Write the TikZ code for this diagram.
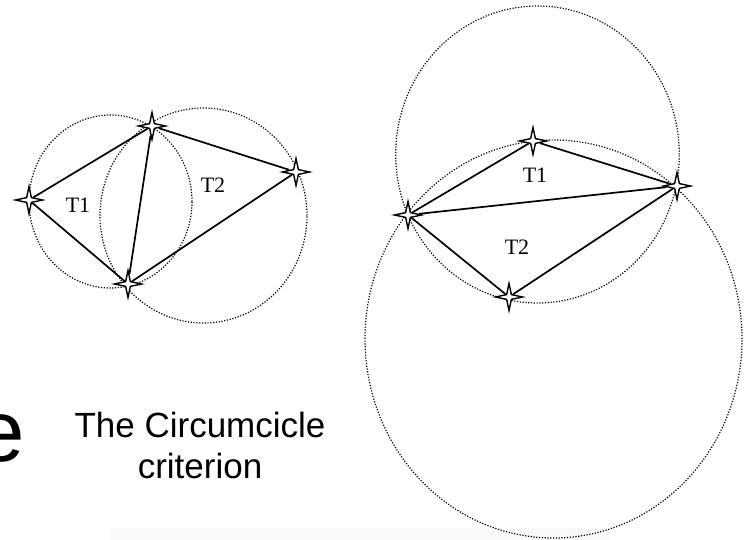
\documentclass[tikz,border=0pt]{standalone}
\usepackage{fontspec}
\setmainfont{Liberation Serif}
\setsansfont{Liberation Sans}
\usepackage{tikz}
\usetikzlibrary{shapes.geometric}
\definecolor{figline}{RGB}{0,0,0}
\definecolor{figstrip}{RGB}{249,249,249}
\tikzset{
  ccl/.style ={draw=figline, line width=1.2pt, dash pattern=on 1.2pt off 1.6pt},
  edg/.style ={draw=figline, line width=1.7pt},
  vtx/.style ={shape=star, star points=4, star point ratio=4, minimum size=27pt,
               inner sep=0pt, draw=figline, fill=white, line width=1.4pt},
  lab/.style ={font=\fontsize{22}{26}\selectfont, inner sep=0pt},
  capt/.style={font=\sffamily\fontsize{35}{41}\selectfont, align=center, inner sep=0pt},
  bige/.style={font=\sffamily\fontsize{87}{100}\selectfont, inner sep=0pt},
}

\begin{document}
\begin{tikzpicture}[x=1pt,y=-1pt]
  \useasboundingbox (0,0) rectangle (746,540);
  \clip (0,0) rectangle (746,540);
  \fill[figstrip] (110,528) rectangle (610,540);
  \node[bige,anchor=base east] (ebig) at (25,461) {e};
  \node[capt,anchor=base] (crit) at (200,478) {The Circumcicle\\criterion};
  \begin{scope}
  \draw[ccl] (110.5,201.5) ellipse [x radius=81.5pt, y radius=86.5pt];
  \draw[ccl] (203.5,215.5) ellipse [x radius=103.5pt, y radius=107.5pt];
  \node[vtx] (pa) at (29,200) {};
  \node[vtx] (pb) at (152,126) {};
  \node[vtx] (pc) at (296,172) {};
  \node[vtx] (pd) at (128,284) {};
  \foreach \a/\b in {pa/pb,pa/pd,pb/pd,pb/pc,pd/pc}
    \draw[edg] (\a) -- (\b);
  \node[lab] (ta1) at (78,205) {T1};
  \node[lab] (ta2) at (213,185) {T2};
  \end{scope}
  \begin{scope}
  \draw[ccl] (537.5,154.5) ellipse [x radius=141.8pt, y radius=148.5pt];
  \draw[ccl] (553.5,339) ellipse [x radius=188.5pt, y radius=199pt];
  \node[vtx] (qa) at (408,215) {};
  \node[vtx] (qb) at (533,141) {};
  \node[vtx] (qc) at (677,186) {};
  \node[vtx] (qd) at (509,297) {};
  \foreach \a/\b in {qa/qb,qb/qc,qa/qc,qa/qd,qd/qc}
    \draw[edg] (\a) -- (\b);
  \node[lab] (tb1) at (535,175) {T1};
  \node[lab] (tb2) at (517,247) {T2};
  \end{scope}
\end{tikzpicture}
\end{document}
